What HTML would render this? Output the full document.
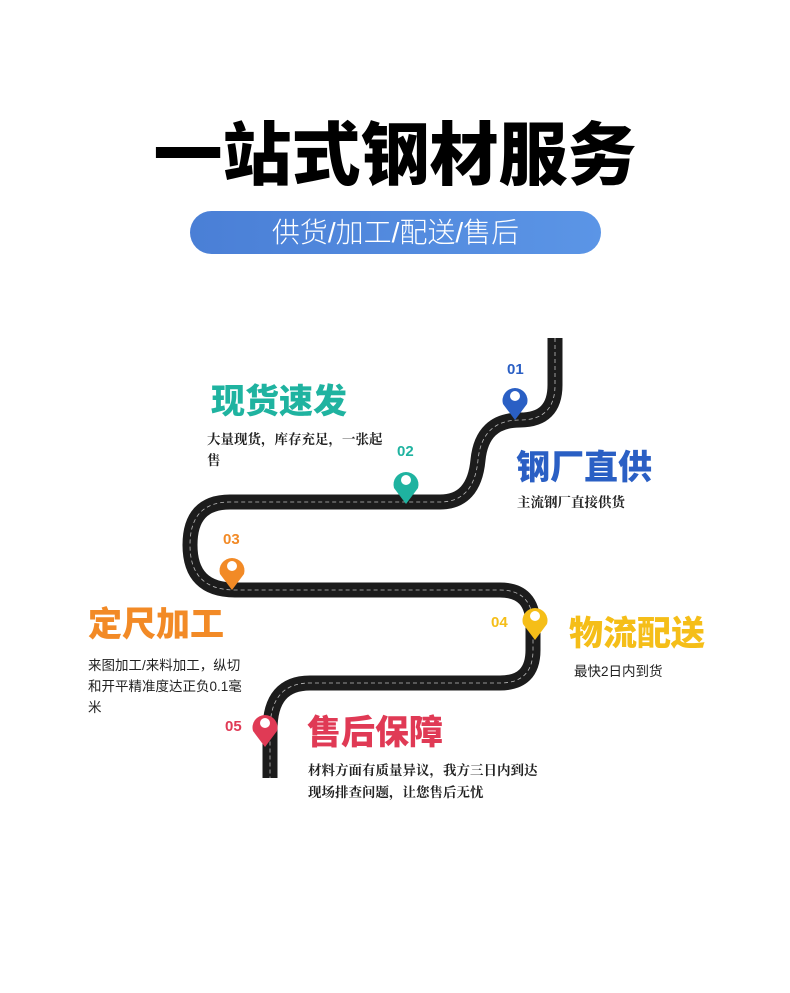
<!DOCTYPE html>
<html><head><meta charset="utf-8"><style>
body{margin:0;width:790px;height:993px;background:#fff;position:relative;overflow:hidden;font-family:"Liberation Sans","Noto Sans CJK SC",sans-serif}
.a{position:absolute;white-space:nowrap}
.h{font-weight:900;font-size:34px;line-height:38px}
.d{font-size:13.5px;line-height:21px;color:#222;font-family:"Liberation Serif","Noto Serif CJK SC",serif;font-weight:700}
.s{font-family:"Liberation Sans","Noto Sans CJK SC",sans-serif;font-weight:400;font-size:13.5px;line-height:21px;color:#222}
.n{font-weight:700;font-size:15px}
</style></head><body>
<div class="a" style="left:148px;top:116px;width:494px;text-align:center;font-size:69px;font-weight:900;line-height:80px;color:#000">一站式钢材服务</div>
<div class="a" style="left:190px;top:211px;width:411px;height:43px;border-radius:22px;background:linear-gradient(90deg,#4a7fd6,#5b95e6);color:#fff;font-size:28px;line-height:43px;text-align:center;font-weight:300">供货/加工/配送/售后</div>
<svg class="a" style="left:0;top:0" width="790" height="993">
<path d="M555 338 L555 385 Q555 420 520 420 Q482 420 478 460 Q474 502 440 502 L230 502 Q190 502 190 545 Q190 590 235 590 L500 590 Q533 590 533 625 L533 650 Q533 683 500 683 L310 683 Q270 683 270 730 L270 778" fill="none" stroke="#1c1c1c" stroke-width="15"/>
<path d="M555 338 L555 385 Q555 420 520 420 Q482 420 478 460 Q474 502 440 502 L230 502 Q190 502 190 545 Q190 590 235 590 L500 590 Q533 590 533 625 L533 650 Q533 683 500 683 L310 683 Q270 683 270 730 L270 778" fill="none" stroke="#bbb" stroke-width="0.8" stroke-dasharray="4 3"/>
<path d="M515 420 L503 404 A12.5 12.5 0 1 1 527 404 Z" fill="#2a5fc4"/><circle cx="515" cy="396" r="5" fill="#fff"/>
<path d="M406 504 L394 488 A12.5 12.5 0 1 1 418 488 Z" fill="#1fb3a0"/><circle cx="406" cy="480" r="5" fill="#fff"/>
<path d="M232 590 L220 574 A12.5 12.5 0 1 1 244 574 Z" fill="#f28a26"/><circle cx="232" cy="566" r="5" fill="#fff"/>
<path d="M535 640 L523 624 A12.5 12.5 0 1 1 547 624 Z" fill="#f5be18"/><circle cx="535" cy="616" r="5" fill="#fff"/>
<path d="M265 747 L253 731 A12.5 12.5 0 1 1 277 731 Z" fill="#e03a55"/><circle cx="265" cy="723" r="5" fill="#fff"/>
</svg>
<div class="a n" style="left:507px;top:361px;color:#2a5fc4">01</div>
<div class="a n" style="left:397px;top:443px;color:#1fb3a0">02</div>
<div class="a n" style="left:223px;top:531px;color:#f28a26">03</div>
<div class="a n" style="left:491px;top:614px;color:#f5be18">04</div>
<div class="a n" style="left:225px;top:718px;color:#e03a55">05</div>
<div class="a h" style="left:211px;top:383px;color:#1fb3a0">现货速发</div>
<div class="a d" style="left:207px;top:429px">大量现货，库存充足，一张起<br>售</div>
<div class="a h" style="left:516px;top:449px;color:#2a5fc4">钢厂直供</div>
<div class="a d" style="left:517px;top:492px">主流钢厂直接供货</div>
<div class="a h" style="left:88px;top:606px;color:#f28a26">定尺加工</div>
<div class="a s" style="left:88px;top:655px">来图加工/来料加工，纵切<br>和开平精准度达正负0.1毫<br>米</div>
<div class="a h" style="left:569px;top:615px;color:#f5be18">物流配送</div>
<div class="a s" style="left:574px;top:661px">最快2日内到货</div>
<div class="a h" style="left:307px;top:714px;color:#e03a55">售后保障</div>
<div class="a d" style="left:308px;top:760px;line-height:22px">材料方面有质量异议，我方三日内到达<br>现场排查问题，让您售后无忧</div>
</body></html>
